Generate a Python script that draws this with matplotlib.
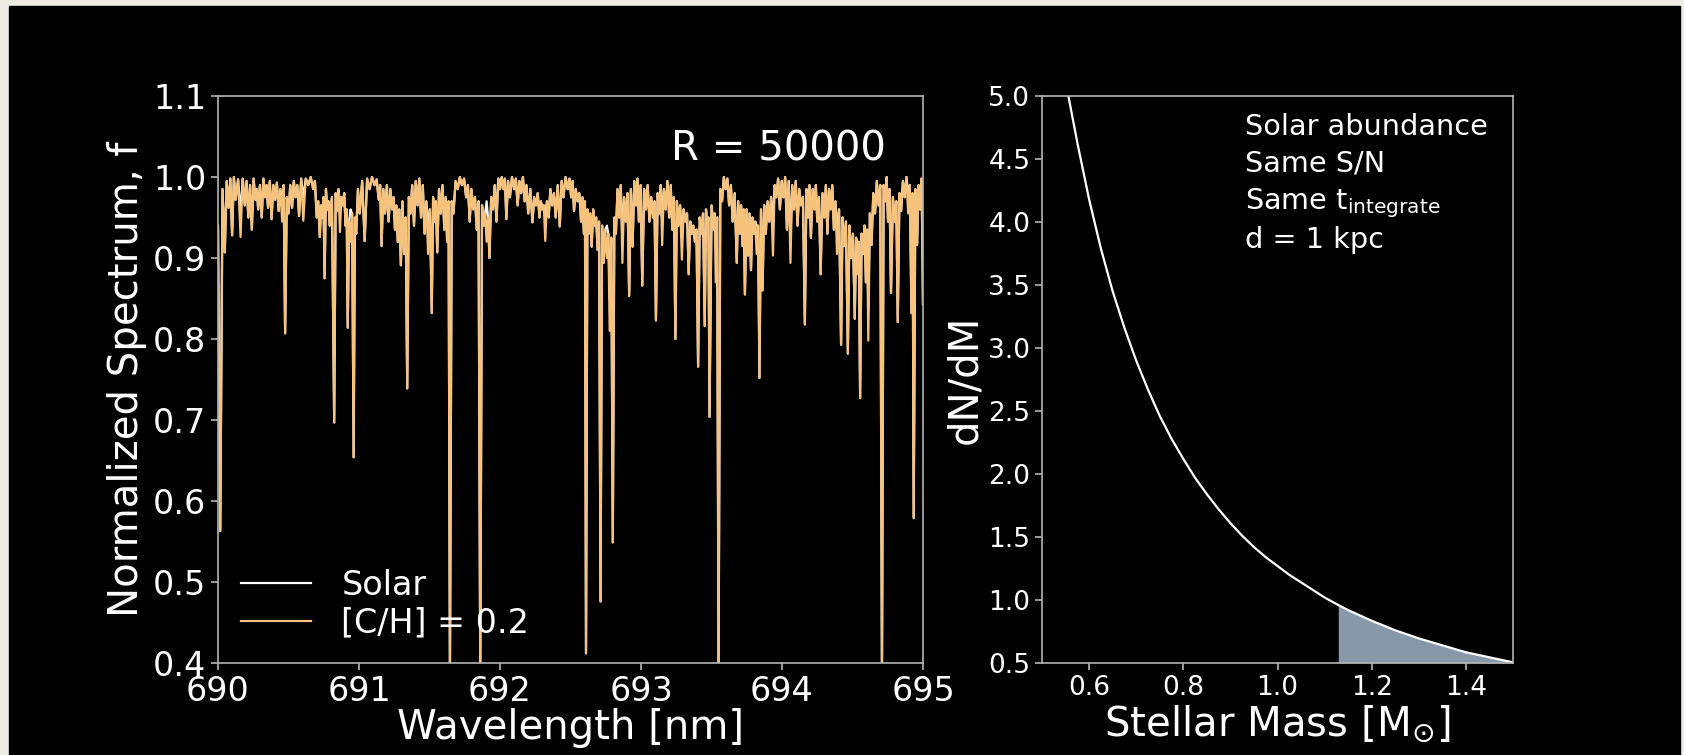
import numpy as np
import matplotlib
matplotlib.use("Agg")
import matplotlib.pyplot as plt
from matplotlib.patches import Rectangle

# ---- spectrum: absorption dips (wavelength nm, flux) ----
start_flux = 0.94

dip_wave = [
    # 690.0 - 690.5
    690.016, 690.048, 690.075, 690.100, 690.125, 690.160, 690.190, 690.215, 690.240, 690.265,
    690.285, 690.310, 690.335, 690.355, 690.380, 690.405, 690.430, 690.455, 690.476, 690.500,
    # 690.5 - 691.0
    690.525, 690.550, 690.575, 690.605, 690.640, 690.675, 690.700, 690.722, 690.740, 690.756,
    690.775, 690.792, 690.824, 690.845, 690.865, 690.885, 690.905, 690.920, 690.940, 690.962,
    690.980, 691.005,
    # 691.0 - 691.5
    691.040, 691.075, 691.110, 691.140, 691.160, 691.185, 691.210, 691.235, 691.255, 691.275,
    691.297, 691.320, 691.342, 691.365, 691.390, 691.415, 691.440, 691.465, 691.490, 691.516,
    # 691.5 - 692.0
    691.535, 691.555, 691.580, 691.605, 691.625, 691.645, 691.670, 691.700, 691.730, 691.760,
    691.785, 691.810, 691.835, 691.860, 691.885, 691.905, 691.925, 691.950, 691.975, 692.000,
    # 692.0 - 692.5
    692.025, 692.045, 692.070, 692.100, 692.125, 692.150, 692.175, 692.200, 692.230, 692.255,
    692.280, 692.300, 692.321, 692.345, 692.370, 692.395, 692.424, 692.450, 692.480, 692.505,
    # 692.5 - 693.0
    692.525, 692.550, 692.575, 692.595, 692.610, 692.630, 692.650, 692.672, 692.692, 692.713,
    692.735, 692.758, 692.778, 692.800, 692.822, 692.845, 692.868, 692.892, 692.916, 692.940,
    692.965, 692.985,
    # 693.0 - 693.5
    693.009, 693.035, 693.060, 693.085, 693.106, 693.130, 693.150, 693.175, 693.200, 693.222,
    693.244, 693.265, 693.290, 693.315, 693.338, 693.360, 693.382, 693.405, 693.428, 693.452,
    693.470, 693.486,
    # 693.5 - 694.0
    693.515, 693.530, 693.550, 693.575, 693.600, 693.625, 693.650, 693.679, 693.700, 693.720,
    693.737, 693.760, 693.780, 693.800, 693.820, 693.840, 693.862, 693.885, 693.910, 693.936,
    693.960, 693.985,
    # 694.0 - 694.5
    694.010, 694.035, 694.060, 694.085, 694.110, 694.135, 694.162, 694.185, 694.205, 694.230,
    694.250, 694.274, 694.300, 694.322, 694.345, 694.368, 694.390, 694.419, 694.440, 694.467,
    # 694.5 - 695.0
    694.490, 694.516, 694.535, 694.554, 694.575, 694.595, 694.612, 694.635, 694.660, 694.685,
    694.709, 694.732, 694.752, 694.773, 694.800, 694.821, 694.845, 694.870, 694.895, 694.918,
    694.934, 694.958, 694.980, 695.000,
]

dip_ch = [
    0.563, 0.907, 0.962, 0.928, 0.972, 0.926, 0.965, 0.950, 0.935, 0.972,
    0.960, 0.950, 0.975, 0.962, 0.948, 0.972, 0.958, 0.945, 0.807, 0.955,
    0.962, 0.975, 0.952, 0.946, 0.990, 0.985, 0.950, 0.926, 0.950, 0.875,
    0.960, 0.940, 0.697, 0.958, 0.932, 0.965, 0.940, 0.814, 0.920, 0.654,
    0.930, 0.955,
    0.921, 0.985, 0.990, 0.972, 0.915, 0.955, 0.945, 0.960, 0.935, 0.920,
    0.891, 0.905, 0.739, 0.955, 0.940, 0.965, 0.950, 0.930, 0.905, 0.832,
    0.945, 0.907, 0.955, 0.935, 0.920, 0.380, 0.955, 0.985, 0.990, 0.975,
    0.945, 0.960, 0.935, 0.380, 0.940, 0.920, 0.900, 0.960, 0.945, 0.985,
    0.985, 0.948, 0.975, 0.985, 0.965, 0.980, 0.970, 0.955, 0.944, 0.965,
    0.950, 0.960, 0.921, 0.950, 0.965, 0.950, 0.939, 0.975, 0.985, 0.975,
    0.958, 0.970, 0.945, 0.930, 0.412, 0.930, 0.914, 0.940, 0.910, 0.476,
    0.894, 0.900, 0.810, 0.549, 0.930, 0.950, 0.894, 0.945, 0.853, 0.914,
    0.965, 0.945,
    0.866, 0.960, 0.945, 0.950, 0.823, 0.955, 0.916, 0.960, 0.950, 0.935,
    0.800, 0.940, 0.898, 0.945, 0.880, 0.930, 0.920, 0.766, 0.930, 0.816,
    0.940, 0.704,
    0.935, 0.870, 0.380, 0.970, 0.985, 0.965, 0.945, 0.894, 0.930, 0.915,
    0.855, 0.903, 0.885, 0.930, 0.905, 0.752, 0.860, 0.930, 0.945, 0.903,
    0.975, 0.960,
    0.975, 0.935, 0.894, 0.960, 0.940, 0.965, 0.818, 0.950, 0.925, 0.960,
    0.945, 0.880, 0.950, 0.930, 0.960, 0.935, 0.905, 0.793, 0.915, 0.782,
    0.900, 0.825, 0.880, 0.727, 0.905, 0.870, 0.798, 0.916, 0.955, 0.965,
    0.380, 0.970, 0.945, 0.857, 0.945, 0.821, 0.958, 0.975, 0.955, 0.832,
    0.579, 0.916, 0.960, 0.843,
]

# continuum peak between each dip and the next one
peak_flux = [
    0.985, 0.995, 0.998, 1.0, 0.997, 0.998, 0.995, 0.99, 0.998, 0.985,
    0.99, 0.998, 0.99, 0.995, 0.99, 0.993, 0.985, 0.99, 0.975, 0.99,
    0.995, 0.99, 0.998, 0.998, 1.0, 0.995, 0.97, 0.965, 0.975, 0.985,
    0.97, 0.975, 0.98, 0.985, 0.975, 0.98, 0.96, 0.945, 0.955, 0.95,
    0.985, 0.995,
    0.998, 1.0, 0.997, 0.99, 0.985, 0.99, 0.985, 0.975, 0.965, 0.96,
    0.97, 0.95, 0.975, 0.99, 0.995, 0.998, 0.99, 0.97, 0.96, 0.975,
    0.97, 0.985, 0.99, 0.975, 0.97, 0.97, 0.995, 1.0, 0.998, 0.99,
    0.985, 0.975, 0.97, 0.965, 0.955, 0.95, 0.975, 0.99, 0.998, 1.0,
    0.998, 0.995, 1.0, 0.998, 0.995, 1.0, 0.99, 0.985, 0.975, 0.98,
    0.97, 0.965, 0.97, 0.985, 0.98, 0.99, 0.995, 1.0, 0.998, 0.995,
    0.985, 0.98, 0.975, 0.97, 0.96, 0.955, 0.96, 0.95, 0.945, 0.94,
    0.935, 0.93, 0.925, 0.95, 0.985, 0.99, 0.975, 0.98, 0.985, 0.995,
    0.998, 0.99,
    0.985, 0.99, 0.975, 0.97, 0.98, 0.99, 0.985, 0.995, 0.99, 0.975,
    0.97, 0.965, 0.96, 0.955, 0.945, 0.94, 0.935, 0.95, 0.955, 0.96,
    0.95, 0.965,
    0.955, 0.95, 0.985, 1.0, 0.998, 0.99, 0.98, 0.97, 0.965, 0.96,
    0.96, 0.955, 0.95, 0.945, 0.94, 0.96, 0.965, 0.97, 0.975, 0.99,
    0.998, 0.995,
    1.0, 0.995, 0.99, 0.995, 0.985, 0.975, 0.985, 0.99, 0.985, 0.99,
    0.975, 0.98, 0.99, 0.985, 0.99, 0.97, 0.96, 0.95, 0.945, 0.94,
    0.93, 0.925, 0.92, 0.93, 0.94, 0.935, 0.955, 0.98, 0.995, 0.99,
    0.99, 1.0, 0.985, 0.975, 0.97, 0.98, 0.995, 1.0, 0.99, 0.98,
    0.985, 0.99, 0.998,
]

# dips where the solar spectrum is shallower (white line shows through)
carbon_wave = [690.160, 690.455, 690.605, 690.865, 690.940, 691.490, 691.905, 692.321,
               692.758, 692.778, 692.868, 693.150, 693.290, 693.530, 693.820, 693.936,
               694.060, 694.390, 694.535, 694.612, 694.895]
solar_flux = [0.955, 0.965, 0.975, 0.965, 0.960, 0.935, 0.970, 0.955,
              0.940, 0.850, 0.925, 0.945, 0.925, 0.930, 0.940, 0.940,
              0.925, 0.935, 0.915, 0.835, 0.980]

# ---- IMF curve ----
imf_mass = [0.556, 0.575, 0.600, 0.625, 0.650, 0.675, 0.700, 0.725, 0.750, 0.775,
            0.800, 0.825, 0.850, 0.875, 0.900, 0.925, 0.950, 0.975, 1.000, 1.025,
            1.050, 1.075, 1.100, 1.129, 1.150, 1.200, 1.250, 1.300, 1.350, 1.400,
            1.450, 1.500]
imf_dndm = [5.00, 4.63, 4.18, 3.79, 3.45, 3.16, 2.90, 2.67, 2.46, 2.28,
            2.12, 1.97, 1.84, 1.72, 1.61, 1.51, 1.42, 1.34, 1.27, 1.20,
            1.14, 1.08, 1.02, 0.96, 0.92, 0.835, 0.76, 0.695, 0.64, 0.585,
            0.545, 0.505]
shade_from = 1.129

assert len(dip_wave) == len(dip_ch) == len(peak_flux) + 1

solar_map = dict(zip(carbon_wave, solar_flux))
wave = [690.0]
flux_ch = [start_flux]
flux_solar = [start_flux]
for i, w in enumerate(dip_wave):
    wave.append(w)
    flux_ch.append(dip_ch[i])
    flux_solar.append(solar_map.get(w, dip_ch[i]))
    if i < len(peak_flux):
        wave.append((w + dip_wave[i + 1]) / 2)
        flux_ch.append(peak_flux[i])
        flux_solar.append(peak_flux[i])

plt.rcParams['font.family'] = ['DejaVu Sans']
plt.rcParams['mathtext.fontset'] = 'dejavusans'

orange = '#f6c27c'
spine_col = '0.7'

fig = plt.figure(figsize=(16.84, 7.55), dpi=100, facecolor='#efece5')
fig.patches.append(Rectangle((9 / 1684, 0), (1680 - 9) / 1684, (755 - 6) / 755,
                             transform=fig.transFigure, color='black', zorder=-1))

ax1 = fig.add_axes([218 / 1684, 92 / 755, 705 / 1684, 567 / 755])
ax2 = fig.add_axes([1042 / 1684, 92 / 755, 471 / 1684, 567 / 755])

for ax in (ax1, ax2):
    ax.set_facecolor('black')
    for s in ax.spines.values():
        s.set_color(spine_col)
        s.set_linewidth(1.2)
    ax.tick_params(colors=spine_col, labelcolor='white', width=1.2, length=5)

# left panel
ax1.plot(wave, flux_solar, color='white', lw=1.6, label='Solar')
ax1.plot(wave, flux_ch, color=orange, lw=1.6, label='[C/H] = 0.2')
ax1.set_xlim(690, 695)
ax1.set_ylim(0.4, 1.1)
ax1.set_xticks([690, 691, 692, 693, 694, 695])
ax1.set_yticks(np.arange(0.4, 1.11, 0.1))
ax1.yaxis.set_major_formatter(matplotlib.ticker.FormatStrFormatter('%.1f'))
ax1.tick_params(labelsize=24)
ax1.set_xlabel('Wavelength [nm]', color='white', fontsize=29, labelpad=0)
ax1.set_ylabel('Normalized Spectrum, f', color='white', fontsize=29, labelpad=4)
ax1.text(0.948, 0.887, 'R = 50000', transform=ax1.transAxes, ha='right',
         va='baseline', color='white', fontsize=29)
leg = ax1.legend(loc='lower left', frameon=False, fontsize=24, handlelength=2.1,
                 handletextpad=0.9, borderaxespad=0.3, labelspacing=0.15)
for t in leg.get_texts():
    t.set_color('white')

# right panel
m = np.array(imf_mass)
d = np.array(imf_dndm)
sel = m >= shade_from
ax2.fill_between(m[sel], 0.5, d[sel], color='#8698aa', lw=0)
ax2.plot(m, d, color='white', lw=1.6)
ax2.set_xlim(0.5, 1.5)
ax2.set_ylim(0.5, 5.0)
ax2.set_xticks([0.6, 0.8, 1.0, 1.2, 1.4])
ax2.set_yticks(np.arange(0.5, 5.01, 0.5))
ax2.xaxis.set_major_formatter(matplotlib.ticker.FormatStrFormatter('%.1f'))
ax2.yaxis.set_major_formatter(matplotlib.ticker.FormatStrFormatter('%.1f'))
ax2.tick_params(labelsize=19)
ax2.set_xlabel('Stellar Mass [M$_{\\odot}$]', color='white', fontsize=29, labelpad=2)
ax2.set_ylabel('dN/dM', color='white', fontsize=29, labelpad=2)

notes = ['Solar abundance', 'Same S/N', 'Same t$_{\\mathregular{integrate}}$', 'd = 1 kpc']
note_y = [0.932, 0.866, 0.800, 0.732]
for txt, y in zip(notes, note_y):
    ax2.text(0.43, y, txt, transform=ax2.transAxes, ha='left', va='baseline',
             color='white', fontsize=20.7)

fig.savefig('out.png', dpi=100, facecolor=fig.get_facecolor())
